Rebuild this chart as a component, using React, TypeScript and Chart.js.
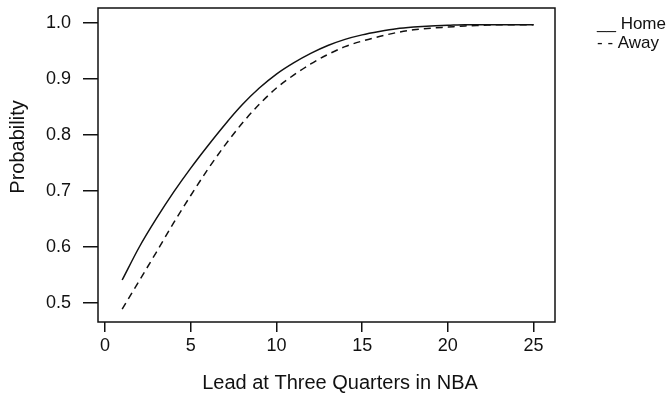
import React, { useEffect, useRef } from "react";
import { Chart, registerables } from "chart.js";

Chart.register(...registerables);

const leads = [1, 2, 3, 4, 5, 6, 7, 8, 9, 10, 11, 12, 13, 14, 15, 16, 17, 18, 19, 20, 21, 22, 23, 24, 25];
const homeProb = [0.541, 0.6, 0.651, 0.698, 0.741, 0.781, 0.819, 0.854, 0.884, 0.909, 0.929, 0.946, 0.96, 0.971, 0.979, 0.985, 0.99, 0.993, 0.995, 0.996, 0.997, 0.997, 0.997, 0.997, 0.997];
const awayProb = [0.489, 0.54, 0.591, 0.643, 0.692, 0.739, 0.782, 0.821, 0.855, 0.884, 0.907, 0.927, 0.944, 0.958, 0.968, 0.976, 0.983, 0.988, 0.991, 0.993, 0.995, 0.996, 0.997, 0.997, 0.997];
const xTicks = [0, 5, 10, 15, 20, 25];
const yTicks = [0.5, 0.6, 0.7, 0.8, 0.9, 1.0];
const xTitle = "Lead at Three Quarters in NBA";
const yTitle = "Probability";
const legendLabels = ["__ Home", "- - Away"];

const FONT = "'Liberation Sans', Arial, Helvetica, sans-serif";

const decorPlugin = {
  id: "decor",
  afterDraw(chart: any) {
    const { ctx, chartArea } = chart;
    ctx.save();
    ctx.strokeStyle = "#111";
    ctx.lineWidth = 1.5;
    ctx.strokeRect(chartArea.left, chartArea.top, chartArea.right - chartArea.left, chartArea.bottom - chartArea.top);
    ctx.fillStyle = "#111";
    ctx.font = `20px ${FONT}`;
    ctx.textAlign = "center";
    ctx.textBaseline = "middle";
    ctx.fillText(xTitle, 340, 383);
    ctx.translate(18, 147);
    ctx.rotate(-Math.PI / 2);
    ctx.fillText(yTitle, 0, 0);
    ctx.restore();
    ctx.save();
    ctx.fillStyle = "#111";
    ctx.font = `17px ${FONT}`;
    ctx.textAlign = "left";
    ctx.textBaseline = "middle";
    ctx.fillText(legendLabels[0], 597, 24);
    ctx.fillText(legendLabels[1], 597, 43);
    ctx.restore();
  },
};

export default function App() {
  const ref = useRef<HTMLCanvasElement | null>(null);
  useEffect(() => {
    if (!ref.current) return;
    const chart = new Chart(ref.current, {
      type: "line",
      data: {
        datasets: [
          {
            label: "Home",
            data: leads.map((x, i) => ({ x, y: homeProb[i] })),
            borderColor: "#111",
            borderWidth: 1.5,
            pointRadius: 0,
            cubicInterpolationMode: "monotone",
            fill: false,
          },
          {
            label: "Away",
            data: leads.map((x, i) => ({ x, y: awayProb[i] })),
            borderColor: "#111",
            borderWidth: 1.5,
            borderDash: [7, 5],
            pointRadius: 0,
            cubicInterpolationMode: "monotone",
            fill: false,
          },
        ],
      },
      options: {
        responsive: false,
        animation: false,
        layout: { padding: { top: 8, right: 117, left: 0, bottom: 0 } },
        plugins: { legend: { display: false }, tooltip: { enabled: false } },
        scales: {
          x: {
            type: "linear",
            min: -0.41,
            max: 26.25,
            afterBuildTicks: (s: any) => {
              s.ticks = xTicks.map((v) => ({ value: v }));
            },
            afterFit: (s: any) => {
              s.height = 76;
              s.paddingLeft = 0;
              s.paddingRight = 0;
            },
            grid: { drawOnChartArea: false, drawTicks: true, tickLength: 10, color: "#111", lineWidth: 1.5 },
            border: { display: false },
            ticks: { color: "#111", font: { family: FONT, size: 18 }, padding: 3, maxRotation: 0, autoSkip: false },
          },
          y: {
            type: "linear",
            min: 0.466,
            max: 1.027,
            afterBuildTicks: (s: any) => {
              s.ticks = yTicks.map((v) => ({ value: v }));
            },
            afterFit: (s: any) => {
              s.width = 98;
              s.paddingTop = 0;
              s.paddingBottom = 0;
            },
            grid: { drawOnChartArea: false, drawTicks: true, tickLength: 15, color: "#111", lineWidth: 1.5 },
            border: { display: false },
            ticks: {
              color: "#111",
              font: { family: FONT, size: 18 },
              padding: 12,
              autoSkip: false,
              callback: (v: any) => Number(v).toFixed(1),
            },
          },
        },
      },
      plugins: [decorPlugin],
    } as any);
    return () => chart.destroy();
  }, []);
  return (
    <div style={{ position: "fixed", left: 0, top: 0, width: 672, height: 398, background: "#fff" }}>
      <canvas ref={ref} width={672} height={398} style={{ display: "block" }} />
    </div>
  );
}
